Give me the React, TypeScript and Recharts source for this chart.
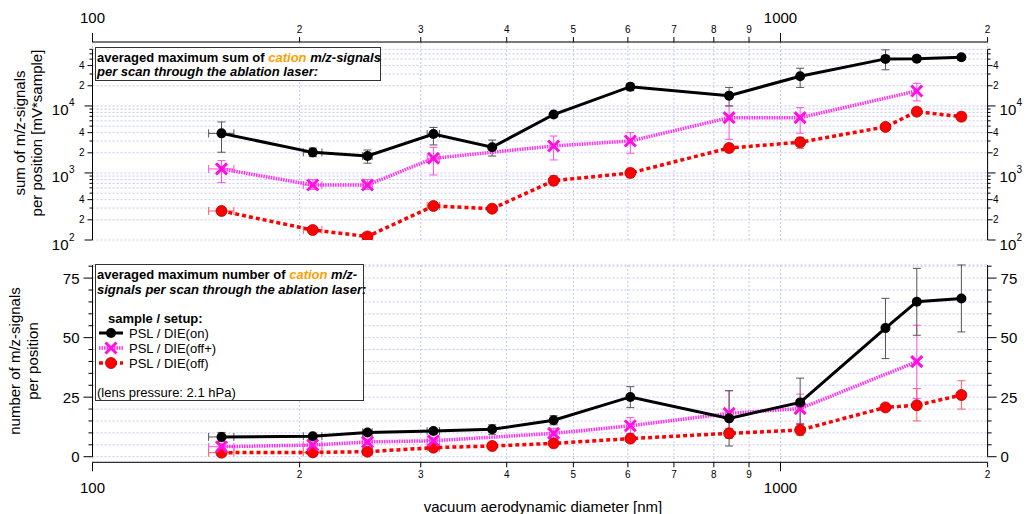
import React from 'react';
import {
  ScatterChart, Scatter, XAxis, YAxis, CartesianGrid, ErrorBar, ReferenceLine,
} from 'recharts';

const FONT = '"Liberation Sans", Arial, Helvetica, sans-serif';
const W = 1035;
const H = 514;

// vacuum aerodynamic diameter [nm] and its (x) uncertainty
const diameters = [154, 209, 251, 313, 381, 468, 605, 842, 1068, 1421, 1578, 1832];
const diameterErr = [6.5, 6.5, 4, 6.5, null, null, null, null, null, null, null, null];

// upper panel: averaged maximum sum of cation m/z-signals [mV*sample]
const sumOn = [3900, 2030, 1790, 3820, 2420, 7450, 19400, 14260, 27700, 50400, 50800, 53300];
const sumOnLow = [2040, 1750, 1400, 2620, 1790, 6800, 16900, 10000, 18900, 34600, 46500, 48500];
const sumOnHigh = [5770, 2350, 2200, 4780, 3100, 7950, 21800, 18900, 36600, 68700, 56000, 57000];

const sumOffPlus = [1150, 662, 662, 1655, null, 2530, 3000, 6690, 6690, null, 16750, null];
const sumOffPlusLow = [718, 570, 570, 935, null, 1565, 1970, 3170, 3920, null, 11900, null];
const sumOffPlusHigh = [1530, 795, 795, 2415, null, 3560, 4000, 10000, 9450, null, 21800, null];

const sumOff = [271, 141, 113, 322, 293, 767, 1000, 2360, 2870, 4870, 8220, 6920];
const sumOffLow = [258, 133, 107, 300, 278, 647, 860, 2040, 2330, null, 7340, 6020];
const sumOffHigh = [285, 150, 120, 345, 310, 910, 1175, 2680, 3400, null, 9300, 8050];

// lower panel: averaged maximum number of cation m/z-signals
const countOn = [8.3, 8.6, 10.2, 10.8, 11.5, 15.3, 25.1, 16.1, 22.8, 54.0, 65.1, 66.4];
const countOnLow = [6.3, 7.6, 9.2, 9.8, 9.4, 13.4, 20.6, 4.5, 13.7, 41.2, 51.0, 52.4];
const countOnHigh = [10.2, 9.6, 11.2, 11.8, 13.4, 17.2, 29.4, 27.7, 33.0, 66.5, 79.1, 80.5];

const countOffPlus = [4.2, 4.9, 6.2, 6.7, null, 9.8, 13.0, 18.2, 20.2, null, 39.9, null];
const countOffPlusLow = [2.9, 3.6, 5.0, 5.4, null, 7.7, 9.8, 8.4, 14.0, null, 24.5, null];
const countOffPlusHigh = [5.5, 6.2, 7.4, 8.0, null, 11.9, 16.4, 27.7, 26.3, null, 55.2, null];

const countOff = [1.7, 1.8, 2.1, 3.8, 4.5, 5.6, 7.6, 9.8, 11.2, 20.7, 21.6, 25.9];
const countOffLow = [1.1, 1.2, 1.5, 3.1, 3.8, 4.8, 6.3, 7.7, 9.0, null, 15.0, 20.0];
const countOffHigh = [2.3, 2.4, 2.7, 4.5, 5.2, 6.4, 9.1, 11.9, 13.4, null, 28.6, 31.9];

// axes
const diameterTicks = [100, 200, 300, 400, 500, 600, 700, 800, 900, 1000, 2000];
const sumTicks = [
  100, 200, 300, 400, 500, 600, 700, 800, 900,
  1000, 2000, 3000, 4000, 5000, 6000, 7000, 8000, 9000,
  10000, 20000, 30000, 40000, 50000, 60000, 70000,
];
const countTicks = [0, 5, 10, 15, 20, 25, 30, 35, 40, 45, 50, 55, 60, 65, 70, 75, 80];
const countLabels = [0, 25, 50, 75];

const legendNames = ['PSL / DIE(on)', 'PSL / DIE(off+)', 'PSL / DIE(off)'];

function buildPoints(vals: (number | null)[], lows: (number | null)[], highs: (number | null)[]) {
  const pts: any[] = [];
  vals.forEach((v, i) => {
    if (v == null) return;
    const lo = lows[i];
    const hi = highs[i];
    const ex = diameterErr[i];
    pts.push({
      x: diameters[i],
      y: v,
      ey: lo != null && hi != null ? [v - lo, hi - v] : undefined,
      ex: ex != null ? [ex, ex] : undefined,
    });
  });
  return pts;
}

const PINK = '#ff30f0';

const DotBlack = (p: any) => <circle cx={p.cx} cy={p.cy} r={5} fill="#000" />;
const DotRed = (p: any) => <circle cx={p.cx} cy={p.cy} r={5.5} fill="#ff0000" stroke="#b00000" strokeWidth={0.8} />;
const CrossPink = (p: any) => (
  <g stroke="#ff10e0" strokeWidth={3}>
    <line x1={p.cx - 5.5} y1={p.cy - 5.5} x2={p.cx + 5.5} y2={p.cy + 5.5} />
    <line x1={p.cx - 5.5} y1={p.cy + 5.5} x2={p.cx + 5.5} y2={p.cy - 5.5} />
  </g>
);

const series = [
  { key: 'off', shape: DotRed, line: { stroke: '#ff0000', strokeWidth: 3.5, strokeDasharray: '4 3' }, err: '#ff6060' },
  { key: 'offPlus', shape: CrossPink, line: { stroke: PINK, strokeWidth: 3.5, strokeDasharray: '1.5 1' }, err: '#ff50e0' },
  { key: 'on', shape: DotBlack, line: { stroke: '#000', strokeWidth: 3 }, err: '#555' },
];

function DiameterTick({ x, y, payload, side }: any) {
  const v = payload.value;
  const major = v === 100 || v === 1000;
  const dir = side === 'top' ? -1 : 1;
  const lead = Math.round(v / Math.pow(10, Math.floor(Math.log10(v) + 1e-9)));
  return (
    <g>
      <line x1={x} x2={x} y1={y} y2={y + dir * (major ? 9 : 5)} stroke="#000" />
      {major ? (
        <text x={x} y={y + dir * 25} textAnchor="middle" dominantBaseline="central"
          fontSize={15} fontFamily={FONT} fill="#000">{v}</text>
      ) : (
        <text x={x} y={y + dir * 12.5} textAnchor="middle" dominantBaseline="central"
          fontSize={10} fontFamily={FONT} fill="#000">{lead}</text>
      )}
    </g>
  );
}

function SumTick({ x, y, payload, side }: any) {
  const v = payload.value;
  const exp = Math.floor(Math.log10(v) + 1e-9);
  const lead = Math.round(v / Math.pow(10, exp));
  const dir = side === 'left' ? -1 : 1;
  const len = lead === 1 ? 8 : lead === 2 || lead === 4 ? 5 : 3;
  const left = side === 'left';
  return (
    <g fontFamily={FONT} fill="#000">
      <line x1={x} x2={x + dir * len} y1={y} y2={y} stroke="#000" />
      {lead === 1 && (
        <>
          <text x={left ? x - 24 : x + 12} y={y + 4} textAnchor={left ? 'end' : 'start'}
            dominantBaseline="central" fontSize={15}>10</text>
          <text x={left ? x - 18 : x + 29} y={y - 3} textAnchor={left ? 'end' : 'start'}
            dominantBaseline="central" fontSize={10}>{exp}</text>
        </>
      )}
      {(lead === 2 || lead === 4) && (
        <text x={left ? x - 8 : x + 5.5} y={y} textAnchor={left ? 'end' : 'start'}
          dominantBaseline="central" fontSize={10}>{lead}</text>
      )}
    </g>
  );
}

function CountTick({ x, y, payload, side }: any) {
  const v = payload.value;
  const labeled = countLabels.includes(v);
  const left = side === 'left';
  const dir = left ? -1 : 1;
  return (
    <g fontFamily={FONT} fill="#000">
      <line x1={x} x2={x + dir * (labeled ? 9 : 4)} y1={y} y2={y} stroke="#000" />
      {labeled && (
        <text x={left ? x - 13 : x + 13} y={y} textAnchor={left ? 'end' : 'start'}
          dominantBaseline="central" fontSize={15}>{v}</text>
      )}
    </g>
  );
}

function Panel({ top, bottom, xSide, yDomain, yTicks, yScale, Tick, axisTop, sets }: any) {
  return (
    <div style={{ position: 'absolute', left: 0, top: 0 }}>
      <ScatterChart width={W} height={H}
        margin={{ top, bottom, left: 42.5, right: 7.4 }}>
        <CartesianGrid yAxisId="left" stroke="#c6c6f4" strokeDasharray="2 2" />
        <XAxis dataKey="x" type="number" scale="log" domain={[100, 2000]} allowDataOverflow
          orientation={xSide} height={xSide === 'top' ? 30 : 40} ticks={diameterTicks} interval={0}
          tickSize={0} tickMargin={0} tickLine={false} axisLine={{ stroke: '#000' }}
          tick={(p: any) => <DiameterTick {...p} side={xSide} />} />
        <YAxis yAxisId="left" dataKey="y" type="number" scale={yScale} domain={yDomain} allowDataOverflow
          width={50} ticks={yTicks} interval={0} tickSize={0} tickMargin={0} tickLine={false} axisLine={false}
          tick={(p: any) => <Tick {...p} side="left" />} />
        <YAxis yAxisId="right" orientation="right" type="number" scale={yScale} domain={yDomain} allowDataOverflow
          width={40} ticks={yTicks} interval={0} tickSize={0} tickMargin={0} tickLine={false} axisLine={false}
          tick={(p: any) => <Tick {...p} side="right" />} />
        <ReferenceLine yAxisId="left" ifOverflow="visible" stroke="#000"
          segment={[{ x: 100, y: yDomain[0] < 0 ? 0 : yDomain[0] }, { x: 100, y: axisTop }]} />
        <ReferenceLine yAxisId="left" ifOverflow="visible" stroke="#000"
          segment={[{ x: 2000, y: yDomain[0] < 0 ? 0 : yDomain[0] }, { x: 2000, y: axisTop }]} />
        {series.map((s, i) => (
          <Scatter key={s.key} yAxisId="left" data={sets[i]} isAnimationActive={false}
            line={s.line} lineType="joint" shape={s.shape}>
            <ErrorBar dataKey="ey" direction="y" width={4} stroke={s.err} strokeWidth={1} isAnimationActive={false} />
            <ErrorBar dataKey="ex" direction="x" width={4} stroke={s.err} strokeWidth={1} isAnimationActive={false} />
          </Scatter>
        ))}
      </ScatterChart>
    </div>
  );
}

function Overlay() {
  const t = { fontFamily: FONT, fill: '#000' };
  const orange = '#ffa000';
  return (
    <svg width={W} height={H} style={{ position: 'absolute', left: 0, top: 0 }}>
      {/* y titles */}
      <g {...t} fontSize={15} textAnchor="middle" dominantBaseline="central">
        <text transform="translate(19,133) rotate(-90)">sum of m/z-signals</text>
        <text transform="translate(36,133) rotate(-90)">per position [mV*sample]</text>
        <text transform="translate(14,361) rotate(-90)">number of m/z-signals</text>
        <text transform="translate(32,361) rotate(-90)">per position</text>
        <text x={543} y={506}>vacuum aerodynamic diameter [nm]</text>
      </g>

      {/* upper annotation */}
      <rect x={95.5} y={47.5} width={285} height={33} fill="#fff" stroke="#333" />
      <g {...t} fontSize={13} fontWeight="bold" dominantBaseline="central">
        <text x={97} y={57}>
          averaged maximum sum of <tspan fill={orange} fontStyle="italic">cation</tspan>
          <tspan fontStyle="italic"> m/z-signals</tspan>
        </text>
        <text x={97} y={71} fontStyle="italic">per scan through the ablation laser:</text>
      </g>

      {/* lower annotation + legend */}
      <rect x={95.5} y={264.5} width={268} height={136} fill="#fff" stroke="#333" />
      <g {...t} fontSize={13} dominantBaseline="central">
        <text x={97} y={274} fontWeight="bold">
          averaged maximum number of <tspan fill={orange} fontStyle="italic">cation</tspan>
          <tspan fontStyle="italic"> m/z-</tspan>
        </text>
        <text x={97} y={289} fontWeight="bold" fontStyle="italic">signals per scan through the ablation laser:</text>
        <text x={108} y={318} fontWeight="bold">sample / setup:</text>
        {legendNames.map((n, i) => (
          <text key={n} x={129} y={333 + i * 15}>{n}</text>
        ))}
        <text x={97} y={392}>(lens pressure: 2.1 hPa)</text>
      </g>
      <line x1={99} x2={123} y1={333} y2={333} stroke="#000" strokeWidth={3} />
      <DotBlack cx={111} cy={333} />
      <line x1={99} x2={123} y1={348} y2={348} stroke={PINK} strokeWidth={3.5} strokeDasharray="1.5 1" />
      <CrossPink cx={111} cy={348} />
      <line x1={99} x2={123} y1={363} y2={363} stroke="#ff0000" strokeWidth={3.5} strokeDasharray="4 3" />
      <DotRed cx={111} cy={363} />
    </svg>
  );
}

export default function App() {
  const sumSets = [
    buildPoints(sumOff, sumOffLow, sumOffHigh),
    buildPoints(sumOffPlus, sumOffPlusLow, sumOffPlusHigh),
    buildPoints(sumOn, sumOnLow, sumOnHigh),
  ];
  const countSets = [
    buildPoints(countOff, countOffLow, countOffHigh),
    buildPoints(countOffPlus, countOffPlusLow, countOffPlusHigh),
    buildPoints(countOn, countOnLow, countOnHigh),
  ];
  return (
    <div style={{ position: 'absolute', left: 0, top: 0, width: W, height: H, background: '#fff', fontFamily: FONT }}>
      <Panel top={12} bottom={H - 240} xSide="top" yScale="log" yDomain={[100, 90000]}
        yTicks={sumTicks} Tick={SumTick} axisTop={70000} sets={sumSets} />
      <Panel top={265} bottom={11.7} xSide="bottom" yScale="linear" yDomain={[-2.35, 80.5]}
        yTicks={countTicks} Tick={CountTick} axisTop={80.5} sets={countSets} />
      <Overlay />
    </div>
  );
}
